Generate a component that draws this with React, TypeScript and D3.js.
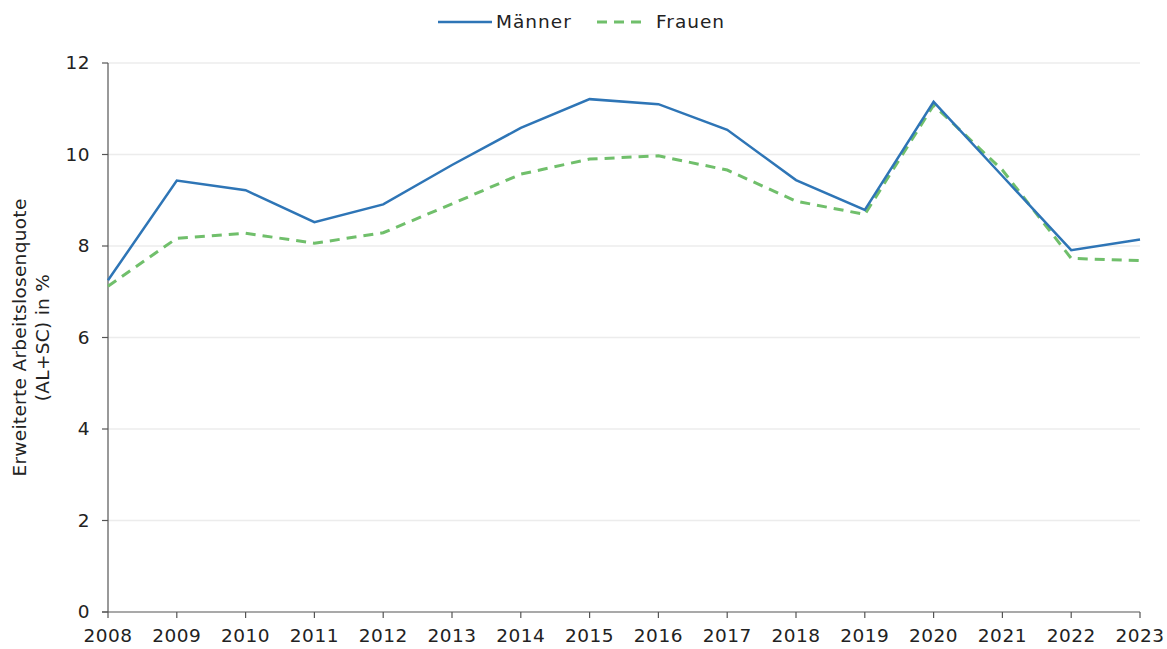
import React from "react";
import * as d3 from "d3";

const years = [2008, 2009, 2010, 2011, 2012, 2013, 2014, 2015, 2016, 2017, 2018, 2019, 2020, 2021, 2022, 2023];
const maenner = [7.25, 9.43, 9.22, 8.52, 8.91, 9.77, 10.58, 11.21, 11.1, 10.54, 9.44, 8.79, 11.15, 9.53, 7.91, 8.14];
const frauen = [7.12, 8.17, 8.28, 8.06, 8.29, 8.92, 9.57, 9.9, 9.97, 9.66, 8.98, 8.69, 11.08, 9.66, 7.73, 7.68];
const yTicks = [0, 2, 4, 6, 8, 10, 12];
const seriesNames = ["Männer", "Frauen"];
const yLabelLines = ["Erweiterte Arbeitslosenquote", "(AL+SC) in %"];

const W = 1167, H = 649;
const left = 108, right = 1140, top = 63, bottom = 612;
const FONT = "'DejaVu Sans', sans-serif";

export default function App() {
  const x = d3.scaleLinear().domain([2008, 2023]).range([left, right]);
  const y = d3.scaleLinear().domain([0, 12]).range([bottom, top]);
  const line = d3.line<number>().x((_, i) => x(years[i])).y((d) => y(d));
  const blue = "#2e75b6";
  const green = "#70bf6b";
  const textCol = "#222";
  const fs = 18.5;
  const ls = 0.5;
  return (
    <svg width={W} height={H} style={{ position: "absolute", left: 0, top: 0, fontFamily: FONT }}>
      <rect width={W} height={H} fill="#fff" />
      {yTicks.filter((t) => t > 0).map((t) => (
        <line key={t} x1={left} x2={right} y1={y(t)} y2={y(t)} stroke="#ececec" strokeWidth={1.5} />
      ))}
      <line x1={left} x2={left} y1={top} y2={bottom} stroke="#555" strokeWidth={1.2} />
      <line x1={left - 6} x2={right} y1={bottom} y2={bottom} stroke="#555" strokeWidth={1.2} />
      {yTicks.map((t) => (
        <g key={t}>
          <line x1={left - 6} x2={left} y1={y(t)} y2={y(t)} stroke="#555" strokeWidth={1.2} />
          <text x={left - 18} y={y(t)} dy="0.35em" textAnchor="end" fontSize={fs} letterSpacing={ls} fill={textCol}>{t}</text>
        </g>
      ))}
      {years.map((yr) => (
        <g key={yr}>
          <line x1={x(yr)} x2={x(yr)} y1={bottom} y2={bottom + 6} stroke="#555" strokeWidth={1.2} />
          <text x={x(yr)} y={bottom + 30} textAnchor="middle" fontSize={fs} letterSpacing={ls} fill={textCol}>{yr}</text>
        </g>
      ))}
      <text transform={`translate(26, ${(top + bottom) / 2}) rotate(-90)`} textAnchor="middle" fontSize={fs} letterSpacing={0.3} fill={textCol}>
        <tspan x={0} dy="0">{yLabelLines[0]}</tspan>
        <tspan x={0} dy="23">{yLabelLines[1]}</tspan>
      </text>
      <path d={line(frauen) || ""} fill="none" stroke={green} strokeWidth={3} strokeDasharray="10,7" />
      <path d={line(maenner) || ""} fill="none" stroke={blue} strokeWidth={2.5} />
      <g>
        <line x1={438} x2={492} y1={22} y2={22} stroke={blue} strokeWidth={2.5} />
        <text x={496} y={22} dy="0.35em" fontSize={fs} letterSpacing={1} fill={textCol}>{seriesNames[0]}</text>
        <line x1={597} x2={646} y1={22} y2={22} stroke={green} strokeWidth={3} strokeDasharray="10,7" />
        <text x={656} y={22} dy="0.35em" fontSize={fs} letterSpacing={1} fill={textCol}>{seriesNames[1]}</text>
      </g>
    </svg>
  );
}
